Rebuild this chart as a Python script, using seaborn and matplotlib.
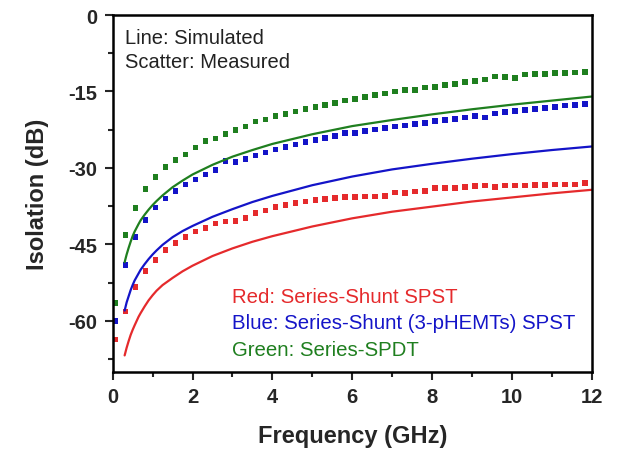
import matplotlib
matplotlib.use("Agg")
import matplotlib.pyplot as plt
from matplotlib.ticker import MultipleLocator
import seaborn as sns
import pandas as pd

# ---- data ----
meas_freq = [0.075, 0.325, 0.575, 0.825, 1.075, 1.325, 1.575, 1.825, 2.075, 2.325,
             2.575, 2.825, 3.075, 3.325, 3.575, 3.825, 4.075, 4.325, 4.575, 4.825,
             5.075, 5.325, 5.575, 5.825, 6.075, 6.325, 6.575, 6.825, 7.075, 7.325,
             7.575, 7.825, 8.075, 8.325, 8.575, 8.825, 9.075, 9.325, 9.575, 9.825,
             10.075, 10.325, 10.575, 10.825, 11.075, 11.325, 11.575, 11.825]
meas_green = [-56.5, -43.2, -37.9, -34.1, -31.8, -29.8, -28.4, -27.4, -26.0, -24.7,
              -24.2, -23.3, -22.6, -21.9, -20.9, -20.5, -19.8, -19.4, -18.9, -18.4,
              -18.1, -17.7, -17.3, -16.8, -16.5, -16.1, -15.7, -15.4, -15.0, -14.7,
              -14.7, -14.2, -14.1, -13.7, -13.5, -13.1, -12.9, -12.7, -12.1, -12.2,
              -12.4, -11.7, -11.6, -11.6, -11.4, -11.4, -11.3, -11.2]
meas_blue = [-60.0, -49.1, -43.6, -40.2, -37.8, -36.0, -34.5, -33.3, -32.3, -31.3,
             -30.4, -28.6, -28.8, -28.3, -27.6, -27.0, -26.4, -25.9, -25.4, -24.9,
             -24.5, -24.1, -23.7, -23.2, -23.2, -22.8, -22.5, -22.2, -21.9, -21.7,
             -21.4, -21.2, -20.8, -20.6, -20.4, -20.1, -19.8, -20.1, -19.3, -19.0,
             -18.8, -18.6, -18.4, -18.2, -18.0, -17.8, -17.7, -17.5]
meas_red = [-63.7, -58.2, -53.4, -50.2, -48.1, -46.1, -44.7, -43.6, -42.5, -41.8,
            -40.9, -40.5, -40.4, -39.8, -38.9, -38.4, -37.7, -37.3, -36.9, -36.6,
            -36.3, -36.1, -35.9, -35.7, -35.7, -35.6, -35.6, -35.5, -34.8, -34.9,
            -34.6, -34.5, -34.0, -34.0, -33.9, -33.8, -33.6, -33.5, -33.7, -33.5,
            -33.5, -33.5, -33.4, -33.4, -33.3, -33.3, -33.3, -33.0]

sim_freq = [0.3, 0.35, 0.4, 0.45, 0.5, 0.55, 0.65, 0.7, 0.8, 0.9, 1.0, 1.1, 1.25,
            1.5, 1.75, 2.0, 2.5, 3.0, 3.5, 4.0, 5.0, 6.0, 7.0, 8.0, 9.0, 10.0,
            11.0, 12.0]
sim_green = [-48.5, -47.0, -45.7, -44.5, -43.4, -42.5, -41.0, -40.3, -39.2, -38.2,
             -37.3, -36.5, -35.4, -33.8, -32.5, -31.3, -29.4, -27.8, -26.5, -25.3,
             -23.4, -21.8, -20.6, -19.5, -18.5, -17.6, -16.8, -16.0]
sim_blue = [-58.0, -56.4, -55.2, -54.0, -53.0, -52.1, -50.7, -50.0, -48.9, -47.9,
            -47.0, -46.2, -45.1, -43.6, -42.4, -41.4, -39.6, -38.1, -36.7, -35.5,
            -33.4, -31.7, -30.3, -29.2, -28.2, -27.3, -26.5, -25.8]
sim_red = [-66.8, -65.3, -64.0, -62.8, -61.8, -60.9, -59.2, -58.5, -57.2, -56.0,
           -55.0, -54.1, -53.0, -51.6, -50.3, -49.2, -47.3, -45.8, -44.5, -43.4,
           -41.5, -39.9, -38.6, -37.6, -36.6, -35.8, -35.0, -34.3]

series_names = ["Red", "Blue", "Green"]
legend_texts = ["Red: Series-Shunt SPST",
                "Blue: Series-Shunt (3-pHEMTs) SPST",
                "Green: Series-SPDT"]
x_ticks = [0, 2, 4, 6, 8, 10, 12]
y_ticks = [0, -15, -30, -45, -60]

# ---- styling ----
sns.set_style("ticks")
plt.rcParams["font.family"] = ["Liberation Sans", "DejaVu Sans"]
plt.rcParams["axes.unicode_minus"] = False
colors = {"Red": "#e52a2c", "Blue": "#1414c8", "Green": "#1f7f1f"}

meas_df = pd.concat([
    pd.DataFrame({"freq": meas_freq, "iso": meas_red, "series": "Red"}),
    pd.DataFrame({"freq": meas_freq, "iso": meas_blue, "series": "Blue"}),
    pd.DataFrame({"freq": meas_freq, "iso": meas_green, "series": "Green"}),
], ignore_index=True)
sim_df = pd.concat([
    pd.DataFrame({"freq": sim_freq, "iso": sim_red, "series": "Red"}),
    pd.DataFrame({"freq": sim_freq, "iso": sim_blue, "series": "Blue"}),
    pd.DataFrame({"freq": sim_freq, "iso": sim_green, "series": "Green"}),
], ignore_index=True)

fig = plt.figure(figsize=(6.19, 4.52), dpi=100)
ax = fig.add_axes([0.182, 0.1754, 0.774, 0.7892])

sns.lineplot(data=sim_df, x="freq", y="iso", hue="series", palette=colors,
             hue_order=series_names, linewidth=1.6, legend=False, ax=ax,
             sort=True, estimator=None)
sns.scatterplot(data=meas_df, x="freq", y="iso", hue="series", palette=colors,
                hue_order=series_names, marker="s", s=16, linewidth=0,
                legend=False, ax=ax)

ax.set_xlim(0, 12)
ax.set_ylim(-70, 0)
ax.set_xticks(x_ticks)
ax.set_yticks(y_ticks)
ax.xaxis.set_minor_locator(MultipleLocator(1))
ax.yaxis.set_minor_locator(MultipleLocator(7.5))
ax.tick_params(which="major", direction="out", length=6, width=1.5,
               labelsize=14.5, pad=5, top=False, right=False)
ax.tick_params(which="minor", direction="out", length=3.5, width=1.5,
               top=False, right=False)
for lab in ax.get_xticklabels() + ax.get_yticklabels():
    lab.set_fontweight("bold")
for sp in ax.spines.values():
    sp.set_visible(True)
    sp.set_linewidth(1.8)
    sp.set_color("black")

ax.set_xlabel("Frequency (GHz)", fontsize=17, fontweight="bold", labelpad=13)
ax.set_ylabel("Isolation (dB)", fontsize=17, fontweight="bold", labelpad=14)

ax.text(0.026, 0.938, "Line: Simulated", transform=ax.transAxes,
        fontsize=14.5, va="center", ha="left", color="#222222")
ax.text(0.026, 0.871, "Scatter: Measured", transform=ax.transAxes,
        fontsize=14.5, va="center", ha="left", color="#222222")
for txt, name, yy in zip(legend_texts, series_names, [0.212, 0.137, 0.061]):
    ax.text(0.249, yy, txt, transform=ax.transAxes, fontsize=14.7,
            va="center", ha="left", color=colors[name])

fig.savefig("out.png", dpi=100)
